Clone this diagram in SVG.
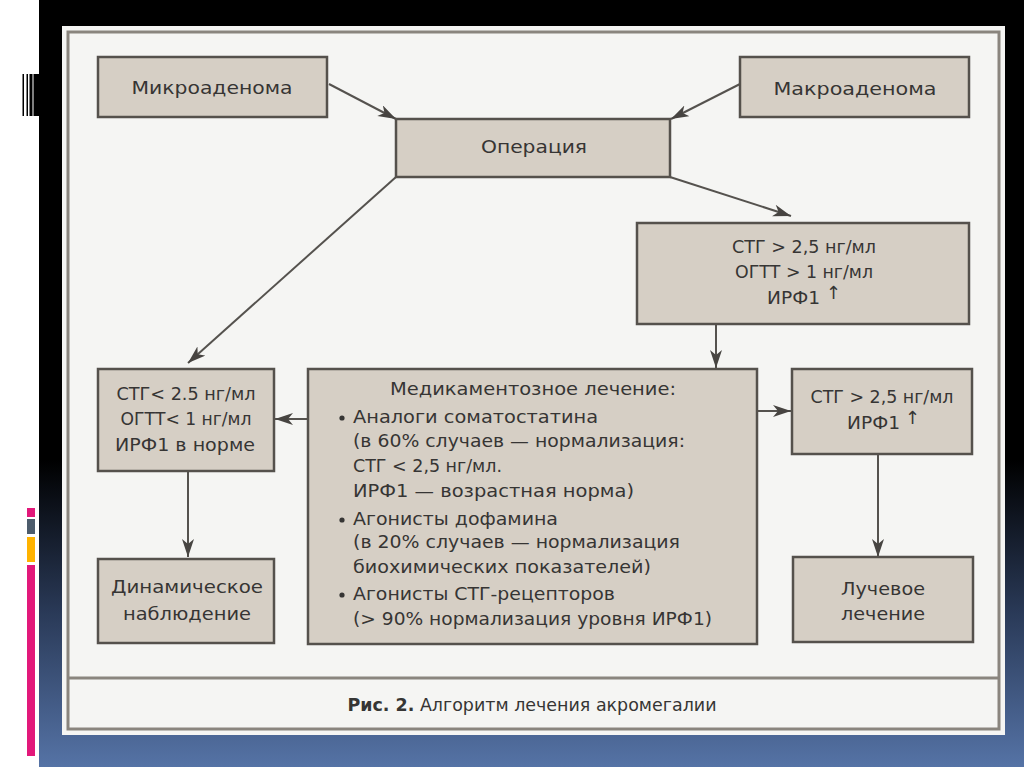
<svg xmlns="http://www.w3.org/2000/svg" width="1024" height="767" viewBox="0 0 1024 767">
<style>
.box{fill:#d6cfc5;stroke:#55514c;stroke-width:2.5}
.t{font-family:"DejaVu Sans","Noto Sans",sans-serif;font-size:18px;fill:#363534}
.c{text-anchor:middle}
.conn{stroke:#55524e;stroke-width:2;fill:none;marker-end:url(#ah)}
.frame{fill:none;stroke:#8a857e;stroke-width:3}
</style>
<defs>
<linearGradient id="bg" x1="0" y1="0" x2="0" y2="1">
<stop offset="0" stop-color="#000"/>
<stop offset="0.6" stop-color="#000"/>
<stop offset="0.8" stop-color="#2a3a58"/>
<stop offset="1" stop-color="#5573a6"/>
</linearGradient>
<marker id="ah" markerUnits="userSpaceOnUse" markerWidth="20" markerHeight="14" refX="18" refY="6" orient="auto">
<path d="M0,0 L18,6 L0,12 L5,6 z" fill="#474441"/>
</marker>
</defs>
<rect x="0" y="0" width="1024" height="767" fill="#fff"/>
<rect x="39" y="0" width="985" height="767" fill="url(#bg)"/>
<g id="deco" fill="#000">
<rect x="22.5" y="74" width="1.5" height="42"/>
<rect x="26.5" y="74" width="1.5" height="42"/>
<rect x="29.5" y="74" width="3" height="42"/>
<rect x="33.5" y="74" width="6" height="42"/>
</g>
<g id="colorbars">
<rect x="27" y="508" width="8" height="9" fill="#e2187a"/>
<rect x="27" y="519" width="8" height="15" fill="#4d5c6c"/>
<rect x="27" y="537" width="8" height="25" fill="#ffb300"/>
<rect x="27" y="565" width="8" height="191" fill="#e2187a"/>
</g>
<rect x="62" y="26" width="943" height="709" fill="#f5f5f3"/>
<rect class="frame" x="68" y="32" width="931" height="697"/>
<line x1="68" y1="678" x2="999" y2="678" stroke="#8a857e" stroke-width="3"/>
<text class="t c" x="532" y="711" textLength="369" lengthAdjust="spacingAndGlyphs"><tspan font-weight="bold">Рис. 2.</tspan> Алгоритм лечения акромегалии</text>

<g id="connectors">
<path class="conn" d="M329,84 L396,119"/>
<path class="conn" d="M740,84 L671,119"/>
<path class="conn" d="M670,177 L791,216"/>
<path class="conn" d="M396,177 L188,363"/>
<path class="conn" d="M716,324 L716,368"/>
<path class="conn" d="M308,419 L275,419"/>
<path class="conn" d="M757,411 L791,411"/>
<path class="conn" d="M188,471 L188,557" stroke="#6e6a65" stroke-width="2.5"/>
<path class="conn" d="M878,454 L878,557" stroke="#6e6a65" stroke-width="2.5"/>
</g>

<g id="micro">
<rect class="box" x="98" y="57" width="229" height="60"/>
<text class="t c" x="212" y="94" textLength="161" lengthAdjust="spacingAndGlyphs">Микроаденома</text>
</g>
<g id="macro">
<rect class="box" x="740" y="57" width="229" height="60"/>
<text class="t c" x="855" y="95" textLength="163" lengthAdjust="spacingAndGlyphs">Макроаденома</text>
</g>
<g id="operation">
<rect class="box" x="396" y="119" width="274" height="58"/>
<text class="t c" x="534" y="153" textLength="106" lengthAdjust="spacingAndGlyphs">Операция</text>
</g>
<g id="high">
<rect class="box" x="637" y="223" width="332" height="101"/>
<text class="t c" x="804" y="253" textLength="144" lengthAdjust="spacingAndGlyphs">СТГ &gt; 2,5 нг/мл</text>
<text class="t c" x="804" y="278" textLength="138" lengthAdjust="spacingAndGlyphs">ОГТТ &gt; 1 нг/мл</text>
<text class="t" x="767" y="304" textLength="53" lengthAdjust="spacingAndGlyphs">ИРФ1</text>
<text class="t" x="826" y="299" font-size="20">↑</text>
</g>
<g id="normal">
<rect class="box" x="98" y="369" width="176" height="102"/>
<text class="t c" x="186" y="400" textLength="139" lengthAdjust="spacingAndGlyphs">СТГ&lt; 2.5 нг/мл</text>
<text class="t c" x="186" y="425" textLength="131" lengthAdjust="spacingAndGlyphs">ОГТТ&lt; 1 нг/мл</text>
<text class="t c" x="185" y="451" textLength="140" lengthAdjust="spacingAndGlyphs">ИРФ1 в норме</text>
</g>
<g id="medication">
<rect class="box" x="308" y="369" width="449" height="275"/>
<text class="t c" x="533" y="395" textLength="286" lengthAdjust="spacingAndGlyphs">Медикаментозное лечение:</text>
<circle cx="342" cy="418" r="2.6" fill="#363534"/>
<text class="t" x="353" y="423" textLength="245" lengthAdjust="spacingAndGlyphs">Аналоги соматостатина</text>
<text class="t" x="353" y="447" textLength="332" lengthAdjust="spacingAndGlyphs">(в 60% случаев — нормализация:</text>
<text class="t" x="353" y="472" textLength="149" lengthAdjust="spacingAndGlyphs">СТГ &lt; 2,5 нг/мл.</text>
<text class="t" x="353" y="497" textLength="281" lengthAdjust="spacingAndGlyphs">ИРФ1 — возрастная норма)</text>
<circle cx="342" cy="520" r="2.6" fill="#363534"/>
<text class="t" x="353" y="525" textLength="205" lengthAdjust="spacingAndGlyphs">Агонисты дофамина</text>
<text class="t" x="353" y="548" textLength="327" lengthAdjust="spacingAndGlyphs">(в 20% случаев — нормализация</text>
<text class="t" x="353" y="573" textLength="298" lengthAdjust="spacingAndGlyphs">биохимических показателей)</text>
<circle cx="342" cy="595" r="2.6" fill="#363534"/>
<text class="t" x="353" y="600" textLength="262" lengthAdjust="spacingAndGlyphs">Агонисты СТГ-рецепторов</text>
<text class="t" x="353" y="625" textLength="359" lengthAdjust="spacingAndGlyphs">(&gt; 90% нормализация уровня ИРФ1)</text>
</g>
<g id="persist">
<rect class="box" x="792" y="369" width="180" height="85"/>
<text class="t c" x="882" y="403" textLength="143" lengthAdjust="spacingAndGlyphs">СТГ &gt; 2,5 нг/мл</text>
<text class="t" x="847" y="429" textLength="53" lengthAdjust="spacingAndGlyphs">ИРФ1</text>
<text class="t" x="905" y="424" font-size="20">↑</text>
</g>
<g id="observation">
<rect class="box" x="98" y="559" width="176" height="84"/>
<text class="t c" x="187" y="593" textLength="152" lengthAdjust="spacingAndGlyphs">Динамическое</text>
<text class="t c" x="187" y="620" textLength="128" lengthAdjust="spacingAndGlyphs">наблюдение</text>
</g>
<g id="radiation">
<rect class="box" x="793" y="557" width="180" height="85"/>
<text class="t c" x="883" y="595" textLength="84" lengthAdjust="spacingAndGlyphs">Лучевое</text>
<text class="t c" x="883" y="620" textLength="84" lengthAdjust="spacingAndGlyphs">лечение</text>
</g>
</svg>
